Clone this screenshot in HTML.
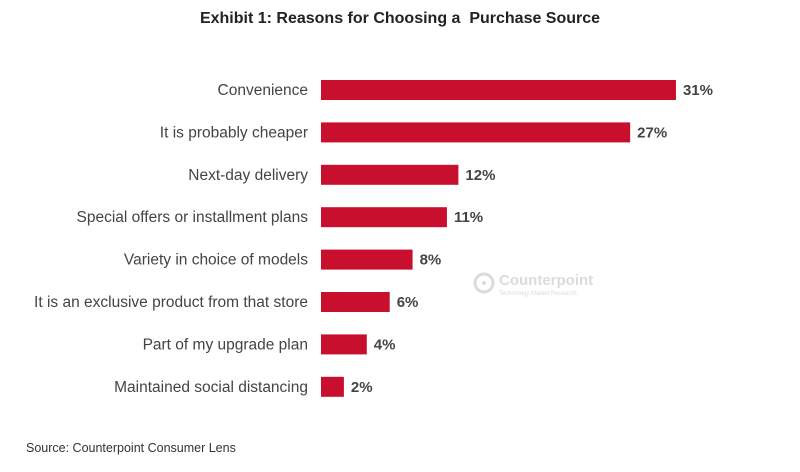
<!DOCTYPE html>
<html><head><meta charset="utf-8"><style>
body{margin:0;width:800px;height:472px;background:#fff;font-family:"Liberation Sans",sans-serif;position:relative;overflow:hidden}
#title{position:absolute;top:10px;left:0;width:800px;text-align:center;font-size:16px;font-weight:bold;color:#222}
#source{position:absolute;left:26px;top:441px;font-size:12.5px;color:#333}
</style></head><body>
<div id="title">Exhibit 1: Reasons for Choosing a&nbsp; Purchase Source</div>
<svg id="chart" width="800" height="472" style="position:absolute;left:0;top:0">
<g opacity="0.35">
<circle cx="484" cy="283" r="9" fill="none" stroke="#999" stroke-width="3"/>
<circle cx="484" cy="283" r="2" fill="#999"/>
<text x="499" y="285" font-size="15" font-weight="bold" fill="#999">Counterpoint</text>
<text x="499" y="295" font-size="6" fill="#999">Technology Market Research</text>
</g>
</svg>
<div id="source">Source: Counterpoint Consumer Lens</div>
<script>
const categories=["Convenience","It is probably cheaper","Next-day delivery","Special offers or installment plans","Variety in choice of models","It is an exclusive product from that store","Part of my upgrade plan","Maintained social distancing"];
const values=[31,27,12,11,8,6,4,2];
const valueLabels=["31%","27%","12%","11%","8%","6%","4%","2%"];
const svg=document.getElementById('chart');
const NS='http://www.w3.org/2000/svg';
const x0=321, pxPer=11.45, yTop=90, step=42.4, bh=20;
const xs=v=>x0+v*pxPer;
const ys=i=>yTop+i*step;
categories.forEach((c,i)=>{
  const cy=ys(i);
  const r=document.createElementNS(NS,'rect');
  r.setAttribute('x',x0);r.setAttribute('y',cy-bh/2);
  r.setAttribute('width',xs(values[i])-x0);r.setAttribute('height',bh);
  r.setAttribute('fill','#c8102e');
  
  
  svg.appendChild(r);
  const t=document.createElementNS(NS,'text');
  t.setAttribute('x',308);t.setAttribute('y',cy+5);
  t.setAttribute('text-anchor','end');t.setAttribute('font-size','15.5');t.setAttribute('fill','#444');
  t.textContent=c;
  
  
  svg.appendChild(t);
  const v=document.createElementNS(NS,'text');
  v.setAttribute('x',xs(values[i])+7);v.setAttribute('y',cy+5);
  v.setAttribute('font-size','15');v.setAttribute('font-weight','bold');v.setAttribute('fill','#444');
  v.textContent=valueLabels[i];
  
  
  svg.appendChild(v);
});
</script>
</body></html>
